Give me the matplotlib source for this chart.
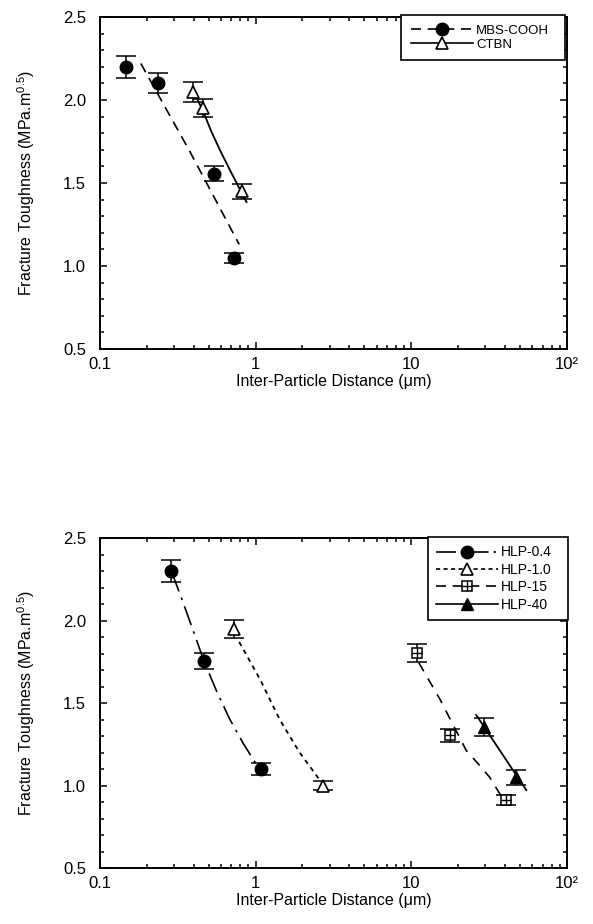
import numpy as np
import matplotlib
matplotlib.use("Agg")
import matplotlib.pyplot as plt
from matplotlib.lines import Line2D
from matplotlib.ticker import FixedLocator, FixedFormatter, LogLocator, MultipleLocator, NullFormatter

plt.rcParams['font.family'] = ['Liberation Sans', 'DejaVu Sans']
plt.rcParams['mathtext.fontset'] = 'custom'
plt.rcParams['mathtext.rm'] = 'Liberation Sans'
plt.rcParams['mathtext.it'] = 'Liberation Sans:italic'

# ---- top panel data ----
mbs_x = [0.148, 0.237, 0.542, 0.73]
mbs_y = [2.20, 2.10, 1.555, 1.05]
mbs_err = [0.065, 0.06, 0.045, 0.03]
mbs_fit_x = [0.183, 0.378, 0.785]
mbs_fit_y = [2.22, 1.69, 1.13]

ctbn_x = [0.394, 0.461, 0.813]
ctbn_y = [2.05, 1.95, 1.45]
ctbn_err = [0.06, 0.055, 0.045]
ctbn_fit_x = [0.395, 0.43, 0.461, 0.52, 0.589, 0.70, 0.875]
ctbn_fit_y = [2.08, 1.99, 1.93, 1.81, 1.70, 1.56, 1.385]

# ---- bottom panel data ----
h04_x = [0.286, 0.468, 1.09]
h04_y = [2.30, 1.755, 1.10]
h04_err = [0.065, 0.05, 0.035]
h04_fit_x = [0.29, 0.33, 0.39, 0.468, 0.56, 0.684, 0.84, 1.01]
h04_fit_y = [2.29, 2.15, 1.96, 1.75, 1.575, 1.40, 1.25, 1.13]

h10_x = [0.73, 2.72]
h10_y = [1.95, 1.00]
h10_err = [0.055, 0.025]
h10_fit_x = [0.785, 1.067, 1.43, 1.92, 2.65]
h10_fit_y = [1.87, 1.645, 1.40, 1.20, 1.02]

h15_x = [10.9, 17.7, 40.9]
h15_y = [1.805, 1.305, 0.91]
h15_err = [0.055, 0.04, 0.03]
h15_fit_x = [11.2, 15.3, 22.6, 26.9, 32.0, 38.0]
h15_fit_y = [1.745, 1.524, 1.213, 1.133, 1.05, 0.935]

h40_x = [29.2, 47.4]
h40_y = [1.355, 1.05]
h40_err = [0.055, 0.045]
h40_fit_x = [26.2, 55.0]
h40_fit_y = [1.428, 0.972]

xtick_vals = [0.1, 1, 10, 100]
xtick_labels = ['0.1', '1', '10', '10\u00b2']

fig = plt.figure(figsize=(5.93, 9.24), dpi=100)
ax1 = fig.add_axes([0.1686, 0.6223, 0.787, 0.3593])
ax2 = fig.add_axes([0.1686, 0.0606, 0.787, 0.3571])


def style_axes(ax):
    ax.set_xscale('log')
    ax.set_xlim(0.1, 100)
    ax.set_ylim(0.5, 2.5)
    ax.xaxis.set_major_locator(FixedLocator(xtick_vals))
    ax.xaxis.set_major_formatter(FixedFormatter(xtick_labels))
    ax.xaxis.set_minor_locator(LogLocator(base=10, subs=np.arange(2, 10)))
    ax.xaxis.set_minor_formatter(NullFormatter())
    ax.yaxis.set_major_locator(MultipleLocator(0.5))
    ax.yaxis.set_minor_locator(MultipleLocator(0.1))
    ax.yaxis.set_major_formatter(plt.FormatStrFormatter('%.1f'))
    ax.tick_params(which='both', direction='in', top=True, right=True, width=1.1)
    ax.tick_params(which='major', length=5)
    ax.tick_params(which='minor', length=3)
    ax.tick_params(axis='x', labelsize=12, pad=6)
    ax.tick_params(axis='y', labelsize=12, pad=10)
    for s in ax.spines.values():
        s.set_linewidth(1.4)
    ax.set_xlabel('Inter-Particle Distance (\u03bcm)', fontsize=11.5)
    ax.set_ylabel('Fracture Toughness (MPa.m$^{0.5}$)', fontsize=11.5)
    ax.yaxis.set_label_coords(-0.135, 0.5)
    ax.xaxis.set_label_coords(0.5, -0.075)


def err(ax, x, y, e):
    ax.errorbar(x, y, yerr=e, fmt='none', ecolor='k', elinewidth=1.1,
                capsize=7.5, capthick=1.1)


style_axes(ax1)
style_axes(ax2)

# top panel
ax1.plot(mbs_fit_x, mbs_fit_y, color='k', lw=1.2, dashes=(6, 4))
ax1.plot(ctbn_fit_x, ctbn_fit_y, color='k', lw=1.3, ls='-')
err(ax1, mbs_x, mbs_y, mbs_err)
err(ax1, ctbn_x, ctbn_y, ctbn_err)
ax1.plot(mbs_x, mbs_y, 'o', color='k', ms=9, zorder=5)
ax1.plot(ctbn_x, ctbn_y, '^', mfc='white', mec='k', mew=1.2, ms=8.5, zorder=5)

hl_mbs = Line2D([], [], color='k', lw=1.2, dashes=(6, 4), marker='o', ms=9)
hl_ctbn = Line2D([], [], color='k', lw=1.2, marker='^', mfc='white', mew=1.2, ms=8.5)
ax1.legend([hl_mbs, hl_ctbn], ['MBS-COOH', 'CTBN'], loc='upper right',
           bbox_to_anchor=(0.646, 0.0, 0.35, 1.005), mode='expand',
           fontsize=9.5, handlelength=4.7, handletextpad=0.25, labelspacing=0.12,
           borderpad=0.7, borderaxespad=0, fancybox=False, framealpha=1,
           edgecolor='k').get_frame().set_linewidth(1.2)

# bottom panel
ax2.plot(h04_fit_x, h04_fit_y, color='k', lw=1.2, dashes=(12, 4, 1.5, 4))
ax2.plot(h10_fit_x, h10_fit_y, color='k', lw=1.3, dashes=(2.5, 2.5))
ax2.plot(h15_fit_x, h15_fit_y, color='k', lw=1.2, dashes=(6, 5))
ax2.plot(h40_fit_x, h40_fit_y, color='k', lw=1.3, ls='-')
err(ax2, h04_x, h04_y, h04_err)
err(ax2, h10_x, h10_y, h10_err)
err(ax2, h15_x, h15_y, h15_err)
err(ax2, h40_x, h40_y, h40_err)
ax2.plot(h04_x, h04_y, 'o', color='k', ms=9, zorder=5)
ax2.plot(h10_x, h10_y, '^', mfc='white', mec='k', mew=1.2, ms=8.5, zorder=5)
ax2.plot(h15_x, h15_y, 's', mfc='white', mec='k', mew=1.1, ms=7, zorder=5)
ax2.plot(h15_x, h15_y, '+', color='k', mew=1.0, ms=7, zorder=6)
ax2.plot(h40_x, h40_y, '^', color='k', ms=8.5, zorder=5)

hl_04 = Line2D([], [], color='k', lw=1.2, dashes=(12, 3, 1.5, 3), marker='o', ms=9)
hl_10 = Line2D([], [], color='k', lw=1.2, dashes=(2.5, 2), marker='^', mfc='white', mew=1.2, ms=8.5)
hl_15a = Line2D([], [], color='k', lw=1.2, dashes=(6, 4), marker='s', mfc='white', mew=1.1, ms=7)
hl_15b = Line2D([], [], ls='none', color='k', marker='+', mew=1.0, ms=7)
hl_40 = Line2D([], [], color='k', lw=1.2, marker='^', ms=8.5)
ax2.legend([hl_04, hl_10, (hl_15a, hl_15b), hl_40], ['HLP-0.4', 'HLP-1.0', 'HLP-15', 'HLP-40'],
           loc='upper right', bbox_to_anchor=(0.702, 0.0, 0.30, 1.003), mode='expand',
           fontsize=10, handlelength=4.5, handletextpad=0.2, labelspacing=0.25,
           borderpad=0.6, borderaxespad=0, fancybox=False, framealpha=1,
           edgecolor='k').get_frame().set_linewidth(1.2)

fig.savefig('out.png', dpi=100)
